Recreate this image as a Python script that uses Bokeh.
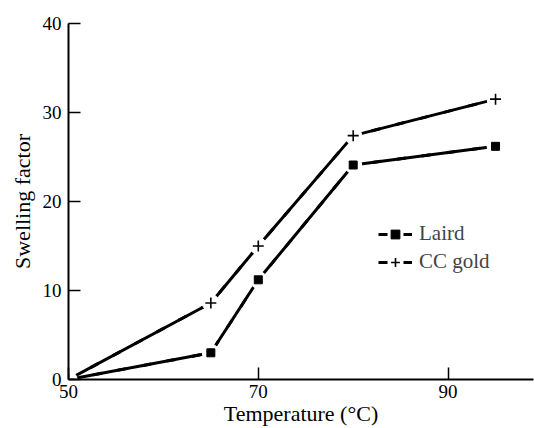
from bokeh.plotting import figure
from bokeh.models import Range1d, FixedTicker, Legend, LegendItem
from bokeh.embed import file_html
from bokeh.resources import INLINE

temperature = [50, 65, 70, 80, 95]
laird = [0, 3.0, 11.2, 24.1, 26.2]
cc_gold = [0, 8.6, 15.0, 27.4, 31.5]
x_ticks = [50, 70, 90]
y_ticks = [0, 10, 20, 30, 40]

FONT = "Liberation Serif"

p = figure(width=534, height=428, output_backend="svg", toolbar_location=None,
           x_range=Range1d(50, 99), y_range=Range1d(0, 40),
           min_border_left=68, min_border_right=1, min_border_top=23, min_border_bottom=49)
p.outline_line_color = None
p.grid.grid_line_color = None
p.background_fill_color = "white"

def series(ys, marker, msize, bg_size):
    p.line(temperature, ys, line_color="black", line_width=3)
    # dashed copy lying exactly under the solid line: only used for the legend stub "- -"
    proxy = p.line(temperature, ys, line_color="black", line_width=3, line_dash="9 16")
    p.scatter(temperature, ys, marker="circle", size=bg_size,
              fill_color="white", fill_alpha=1.0, line_color="white", line_width=1)
    if marker == "square":
        mk = p.scatter(temperature, ys, marker="square", size=msize, fill_color="black", line_color="black")
    else:
        mk = p.scatter(temperature, ys, marker="cross", size=msize, line_color="black", line_width=1.6)
    return [proxy, mk]

r_laird = series(laird, "square", 8, 17)
r_cc = series(cc_gold, "cross", 11, 17)

for ax in (p.xaxis[0], p.yaxis[0]):
    ax.axis_line_width = 2
    ax.axis_line_color = "black"
    ax.major_tick_in = 12
    ax.major_tick_out = 0
    ax.major_tick_line_width = 1.5
    ax.minor_tick_line_color = None
    ax.major_label_text_font = FONT
    ax.major_label_text_font_size = "19px"
    ax.major_label_text_color = "black"
    ax.axis_label_text_font = FONT
    ax.axis_label_text_font_size = "22px"
    ax.axis_label_text_font_style = "normal"
    ax.axis_label_text_color = "black"

p.xaxis[0].ticker = FixedTicker(ticks=x_ticks)
p.yaxis[0].ticker = FixedTicker(ticks=y_ticks)
p.xaxis[0].axis_label = "Temperature (°C)"
p.yaxis[0].axis_label = "Swelling factor"
p.xaxis[0].major_label_standoff = 5
p.xaxis[0].axis_label_standoff = 0
p.yaxis[0].major_label_standoff = 7
p.yaxis[0].axis_label_standoff = 5

legend = Legend(items=[LegendItem(label="Laird", renderers=r_laird),
                       LegendItem(label="CC gold", renderers=r_cc)],
                location=(310, 105), border_line_color=None, background_fill_alpha=0,
                padding=0, margin=0, spacing=3, glyph_width=34, glyph_height=22,
                label_standoff=7, label_text_font=FONT, label_text_font_size="21px",
                label_height=22)
p.add_layout(legend)

open("out.html", "w").write(file_html(p, INLINE))
